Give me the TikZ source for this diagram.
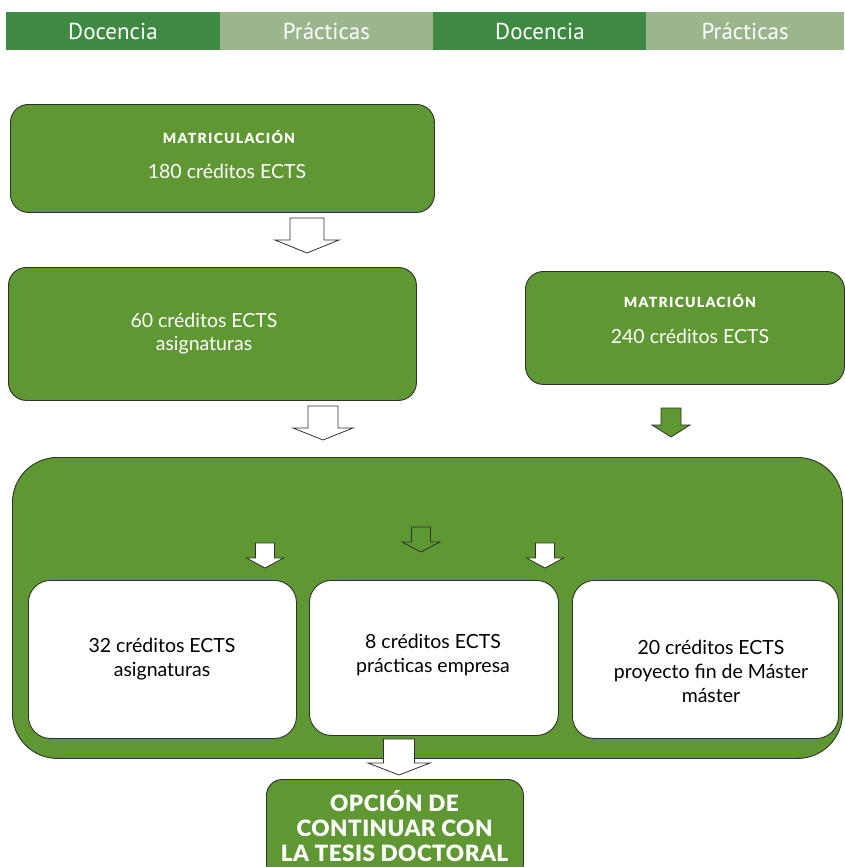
\documentclass[tikz,border=0pt]{standalone}
\usepackage{fontspec}
\setmainfont{Lato}
\newfontfamily\barfont{PT Sans}
\newfontfamily\capsfont[LetterSpace=9]{Lato Black}
\newfontfamily\blackfont[LetterSpace=2]{Lato Black}
\definecolor{bardark}{HTML}{3F8A42}
\definecolor{barlight}{HTML}{9BB68D}
\definecolor{mygreen}{HTML}{5F9733}
\definecolor{edge}{HTML}{2F2F2F}
\newcommand\blockarr[7]{%
  \draw[barrow,#7] (#1-#3,#2) -- (#1+#3,#2) -- (#1+#3,#5) -- (#1+#4,#5) -- (#1,#6) -- (#1-#4,#5) -- (#1-#3,#5) -- cycle;}
\begin{document}
\begin{tikzpicture}[x=1pt,y=-1pt,
  barcell/.style={draw=none,anchor=north west,minimum width=213.5pt,minimum height=38pt,inner sep=0pt,text=white,font=\barfont\fontsize{23}{26}\selectfont},
  gbox/.style={draw=edge,line width=0.9pt,fill=mygreen,rounded corners=18pt,anchor=north west,inner sep=0pt},
  wbox/.style={draw=edge,line width=0.9pt,fill=white,rounded corners=22pt,anchor=north west,inner sep=0pt},
  wtext/.style={text=white,font=\fontsize{19.5}{23}\selectfont,align=center,inner sep=0pt},
  btext/.style={text=black,font=\fontsize{19.5}{24}\selectfont,align=center,inner sep=0pt},
  captext/.style={text=white,font=\capsfont\fontsize{14}{16}\selectfont,inner sep=0pt},
  barrow/.style={draw=edge,line width=0.8pt,fill=white,line join=miter}
]
\useasboundingbox (0,0) rectangle (844,867);
% top bar
\node[barcell,fill=bardark] (b1) at (6,12) {Docencia};
\node[barcell,fill=barlight] (b2) at (219.5,12) {Prácticas};
\node[barcell,fill=bardark] (b3) at (433,12) {Docencia};
\node[barcell,fill=barlight,minimum width=198pt] (b4) at (646,12) {Prácticas};

% box 1
\node[gbox,minimum width=424pt,minimum height=108pt] (m180) at (10,104) {};
\node[captext] (m180a) at (229,137) {MATRICULACIÓN};
\node[wtext] (m180b) at (227,171) {180 créditos ECTS};
\blockarr{307}{218}{17}{32}{240}{253}{}

% box 2
\node[gbox,minimum width=408pt,minimum height=133pt] (a60) at (8,267) {};
\node[wtext] (a60t) at (204,334) {60 créditos ECTS\\asignaturas};
\blockarr{323}{406}{15}{30}{428}{440}{}

% box 3
\node[gbox,minimum width=319pt,minimum height=113pt] (m240) at (525,271) {};
\node[captext] (m240a) at (690,301) {MATRICULACIÓN};
\node[wtext] (m240b) at (690,336) {240 créditos ECTS};
\blockarr{671}{408}{10}{19}{425}{437}{fill=mygreen}

% big box
\node[gbox,rounded corners=45pt,minimum width=830pt,minimum height=301pt] (big) at (12,457) {};
\blockarr{265}{543}{9.5}{18.5}{558}{568}{}
\blockarr{421}{527}{9.5}{19}{542}{552}{fill=mygreen}
\blockarr{545}{543}{9.5}{18.5}{558}{568}{}

\node[wbox,minimum width=268pt,minimum height=158pt] (c32) at (28,580) {};
\node[btext] (c32t) at (162,659) {32 créditos ECTS\\asignaturas};
\node[wbox,minimum width=249pt,minimum height=155pt] (c8) at (309,580) {};
\node[btext] (c8t) at (433,655) {8 créditos ECTS\\prácticas empresa};
\node[wbox,minimum width=266pt,minimum height=158pt] (c20) at (572,580) {};
\node[btext] (c20t) at (711,671) {20 créditos ECTS\\proyecto fin de Máster\\máster};

\blockarr{399}{739}{15.5}{31}{763}{775}{}

% final box
\node[gbox,rounded corners=16pt,minimum width=257pt,minimum height=100pt] (tesis) at (266,779) {};
\node[text=white,font=\blackfont\fontsize{22.5}{25}\selectfont,align=center,inner sep=0pt] (tesist) at (394.5,826) {OPCIÓN DE\\CONTINUAR CON\\LA TESIS DOCTORAL};
\end{tikzpicture}
\end{document}
